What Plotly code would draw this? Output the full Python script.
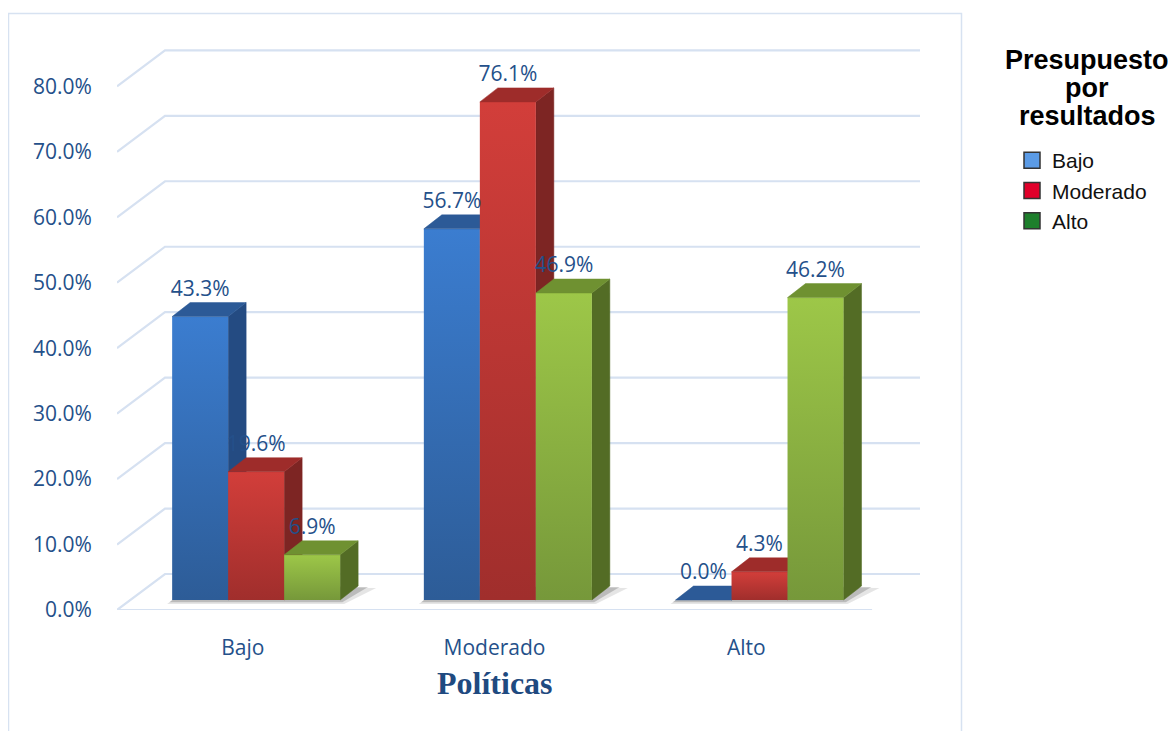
import plotly.graph_objects as go

# ---------------- data ----------------
categories = ["Bajo", "Moderado", "Alto"]
series_names = ["Bajo", "Moderado", "Alto"]
bajo_values = [43.3, 56.7, 0.0]
moderado_values = [19.6, 76.1, 4.3]
alto_values = [6.9, 46.9, 46.2]
series_values = [bajo_values, moderado_values, alto_values]
y_ticks = [0, 10, 20, 30, 40, 50, 60, 70, 80]
x_title = "Políticas"
legend_title_lines = ["Presupuesto", "por", "resultados"]

# ---------------- style ----------------
front_top = ["#3B7DD0", "#D23E3A", "#9DC748"]
front_bottom = ["#2D5C97", "#A02E2C", "#76983A"]
side_col = ["#244B82", "#7D2523", "#536C25"]
top_col = ["#2C5A97", "#9E2C2A", "#6F9131"]
legend_cols = ["#5B9BE6", "#E0002A", "#1E7F2C"]
text_col = "#24508A"
grid_col = "#D6E1F1"

W, H = 1176, 731
OFF = 8  # page body margin
ML = 117 - OFF
MT = 34 - OFF
MB = H - (610 - OFF)
MR = W - (935 - OFF)
X_RANGE = [-0.5, 2.75]
Y_RANGE = [0, 88]
PX_X = (W - ML - MR) / (X_RANGE[1] - X_RANGE[0])
PX_Y = (H - MT - MB) / (Y_RANGE[1] - Y_RANGE[0])


def ux(px):
    return px / PX_X


def uy(px):
    return px / PX_Y


def px_to_paper_x(px):  # px in viewport coordinates
    return (px - OFF - ML) / (W - ML - MR)


def px_to_paper_y(py):
    return (H - MB - (py - OFF)) / (H - MT - MB)


BAR_W = ux(56)
PLANE_DX, PLANE_DY = ux(13.3), uy(10)
DEP_DX, DEP_DY = ux(18), uy(14)
WALL_DX, WALL_DY = ux(48), uy(36)
WALL_RIGHT = X_RANGE[0] + ux(920 - 117)
FLOOR_RIGHT = len(categories) - 0.5
LABEL_OFF = uy(26)

fig = go.Figure()

# ---- gridlines (back wall + diagonal stubs) ----
gx, gy = [], []
for v in y_ticks:
    gx += [X_RANGE[0], X_RANGE[0] + WALL_DX, WALL_RIGHT, None]
    gy += [v, v + WALL_DY, v + WALL_DY, None]
gx += [X_RANGE[0], FLOOR_RIGHT, None]
gy += [0, 0, None]
fig.add_trace(go.Scatter(x=gx, y=gy, mode="lines", line=dict(color=grid_col, width=2.2),
                         hoverinfo="skip", showlegend=False))

# ---- shadows ----
n_series = len(series_values)
for i in range(len(categories)):
    g0 = i + PLANE_DX - 1.5 * BAR_W
    g1 = g0 + n_series * BAR_W
    for grow, alpha in [(1.0, 0.10), (0.55, 0.18)]:
        sx = [g0 - ux(5) * grow, g1 + ux(4) * grow, g1 + DEP_DX + ux(18) * grow, g0 + DEP_DX, g0 - ux(5) * grow]
        sy = [PLANE_DY - uy(4) * grow, PLANE_DY - uy(4) * grow, PLANE_DY + DEP_DY - uy(2) * grow,
              PLANE_DY + DEP_DY, PLANE_DY - uy(4) * grow]
        fig.add_trace(go.Scatter(x=sx, y=sy, mode="lines", fill="toself",
                                 fillcolor=f"rgba(0,0,0,{alpha})", line=dict(width=0),
                                 hoverinfo="skip", showlegend=False))

# ---- bars (front, side and top faces) ----
for i in range(len(categories)):
    for s, vals in enumerate(series_values):
        v = vals[i]
        x0 = i + PLANE_DX - 1.5 * BAR_W + s * BAR_W
        x1 = x0 + BAR_W
        yb = PLANE_DY
        yt = v + PLANE_DY
        # side
        fig.add_trace(go.Scatter(
            x=[x1, x1 + DEP_DX, x1 + DEP_DX, x1, x1],
            y=[yb, yb + DEP_DY, yt + DEP_DY, yt, yb],
            mode="lines", fill="toself", fillcolor=side_col[s], line=dict(width=0.5, color=side_col[s]),
            hoverinfo="skip", showlegend=False))
        # front
        if v > 0:
            fig.add_trace(go.Scatter(
                x=[x0, x1, x1, x0, x0], y=[yb, yb, yt, yt, yb],
                mode="lines", fill="toself",
                fillgradient=dict(type="vertical",
                                  colorscale=[[0, front_bottom[s]], [1, front_top[s]]]),
                line=dict(width=0),
                name=series_names[s], text=f"{categories[i]}: {v:.1f}%", hoverinfo="text",
                showlegend=False))
        # top
        fig.add_trace(go.Scatter(
            x=[x0, x1, x1 + DEP_DX, x0 + DEP_DX, x0],
            y=[yt, yt, yt + DEP_DY, yt + DEP_DY, yt],
            mode="lines", fill="toself", fillcolor=top_col[s], line=dict(width=0.5, color=top_col[s]),
            hoverinfo="skip", showlegend=False))

# ---- data labels (on top of the bars) ----
for s, vals in enumerate(series_values):
    lx, ly, lt = [], [], []
    for i, v in enumerate(vals):
        left = i + PLANE_DX - 1.5 * BAR_W + s * BAR_W
        lx.append(left + BAR_W / 2)
        ly.append(v + PLANE_DY + LABEL_OFF)
        lt.append(f"{v:.1f}%")
    fig.add_trace(go.Scatter(x=lx, y=ly, text=lt, mode="text", textposition="middle center",
                             textfont=dict(family="Open Sans", size=21, color=text_col),
                             hoverinfo="skip", showlegend=False))

# ---- legend entries ----
for s, name in enumerate(series_names):
    fig.add_trace(go.Scatter(x=[None], y=[None], mode="markers", name=name,
                             marker=dict(symbol="square", size=18, color=legend_cols[s],
                                         line=dict(color="#333333", width=1.5))))

# legend title, one centred line at a time
for k, line in enumerate(legend_title_lines):
    fig.add_annotation(text=f"<b>{line}</b>", xref="paper", yref="paper",
                       x=px_to_paper_x(1087), y=px_to_paper_y(60 + 28 * k),
                       xanchor="center", yanchor="middle", showarrow=False,
                       font=dict(family="Liberation Sans", size=27, color="#000000"))

# ---- frame ----
fig.add_shape(type="rect", xref="paper", yref="paper",
              x0=px_to_paper_x(8.5), x1=px_to_paper_x(961.5),
              y0=px_to_paper_y(760), y1=px_to_paper_y(13.5),
              line=dict(color="#D7E2F1", width=1.5), layer="below")

fig.add_annotation(text=f"<b>{x_title}</b>", xref="x", yref="paper",
                   x=(len(categories) - 1) / 2, y=px_to_paper_y(683),
                   xanchor="center", yanchor="middle", showarrow=False,
                   font=dict(family="Liberation Serif", size=32, color="#1F4A80"))

fig.update_layout(
    width=W, height=H,
    margin=dict(l=ML, r=MR, t=MT, b=MB),
    paper_bgcolor="white", plot_bgcolor="white",
    xaxis=dict(range=X_RANGE, tickvals=list(range(len(categories))), ticktext=categories,
               showgrid=False, zeroline=False, showline=False,
               ticks="outside", ticklen=19, tickcolor="rgba(0,0,0,0)",
               tickfont=dict(family="Open Sans", size=21, color=text_col), fixedrange=True),
    yaxis=dict(range=Y_RANGE, tickvals=y_ticks, ticktext=[f"{v:.1f}%" for v in y_ticks],
               showgrid=False, zeroline=False, showline=False,
               ticks="outside", ticklen=20, tickcolor="rgba(0,0,0,0)",
               tickfont=dict(family="Open Sans", size=21, color=text_col), fixedrange=True),
    legend=dict(font=dict(family="Liberation Sans", size=21, color="#111111"),
                x=px_to_paper_x(1012), xanchor="left", y=px_to_paper_y(140), yanchor="top",
                bgcolor="rgba(0,0,0,0)", itemsizing="trace", tracegroupgap=0),
    showlegend=True,
)

fig.write_html("out.html")
